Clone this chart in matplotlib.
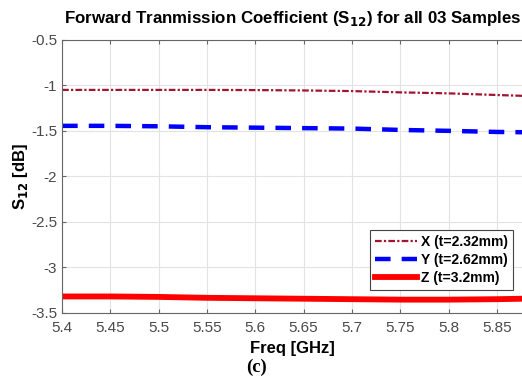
import matplotlib.pyplot as plt

freq = [5.4, 5.45, 5.5, 5.55, 5.6, 5.65, 5.7, 5.75, 5.8, 5.85, 5.876]
s12_x = [-1.05, -1.05, -1.05, -1.05, -1.052, -1.056, -1.063, -1.077, -1.088, -1.106, -1.115]
s12_y = [-1.445, -1.445, -1.45, -1.46, -1.465, -1.47, -1.475, -1.49, -1.50, -1.512, -1.515]
s12_z = [-3.32, -3.32, -3.325, -3.335, -3.34, -3.345, -3.35, -3.355, -3.355, -3.35, -3.345]

xticks = [5.4, 5.45, 5.5, 5.55, 5.6, 5.65, 5.7, 5.75, 5.8, 5.85]
yticks = [-3.5, -3, -2.5, -2, -1.5, -1, -0.5]

plt.rcParams['font.family'] = ['Liberation Sans', 'DejaVu Sans']

fig = plt.figure(figsize=(5.22, 3.76), dpi=100)
ax = fig.add_axes([0.119, 0.168, 0.881, 0.726])

ax.plot(freq, s12_x, color='#a2142f', lw=1.6, linestyle=(0, (3, 1, 1, 1)), label='X (t=2.32mm)')
ax.plot(freq, s12_y, color='#0000ff', lw=3.2, linestyle=(0, (3.5, 2.5)), label='Y (t=2.62mm)')
ax.plot(freq, s12_z, color='#ff0000', lw=4.2, label='Z (t=3.2mm)')

ax.set_xlim(5.4, 5.876)
ax.set_ylim(-3.5, -0.5)
ax.set_xticks(xticks)
ax.set_xticklabels([f'{t:g}' for t in xticks])
ax.set_yticks(yticks)
ax.set_yticklabels([f'{t:g}' for t in yticks])
ax.grid(True, color='#e3e3e3', lw=0.8)
ax.set_axisbelow(True)
ax.tick_params(direction='in', length=3, labelsize=11, labelcolor='#4a4a4a', color='#666666',
               top=True, right=False)
ax.tick_params(axis='x', pad=6)
ax.spines['right'].set_visible(False)
for s in ['left', 'bottom', 'top']:
    ax.spines[s].set_color('#666666')

ax.set_xlabel('Freq [GHz]', fontsize=12, fontweight='bold', labelpad=4)
ax.set_ylabel('S$_{\\mathbf{12}}$ [dB]', fontsize=12, fontweight='bold', labelpad=1)

fig.text(0.56, 0.952, 'Forward Tranmission Coefficient (S$_{\\mathbf{12}}$) for all 03 Samples',
         ha='center', va='center', fontsize=12.2, fontweight='bold')
fig.text(0.492, 0.024, '(c)', ha='center', va='center', fontsize=13.5, fontweight='bold',
         family='Liberation Serif')

leg = ax.legend(loc='lower right', bbox_to_anchor=(0.98, 0.084),
                prop={'weight': 'bold', 'size': 10}, fancybox=False, framealpha=1,
                edgecolor='#444444', handlelength=3.0, handletextpad=0.3,
                borderpad=0.35, labelspacing=0.3, borderaxespad=0)
leg.get_frame().set_linewidth(0.8)

fig.savefig('out.png', dpi=100)
